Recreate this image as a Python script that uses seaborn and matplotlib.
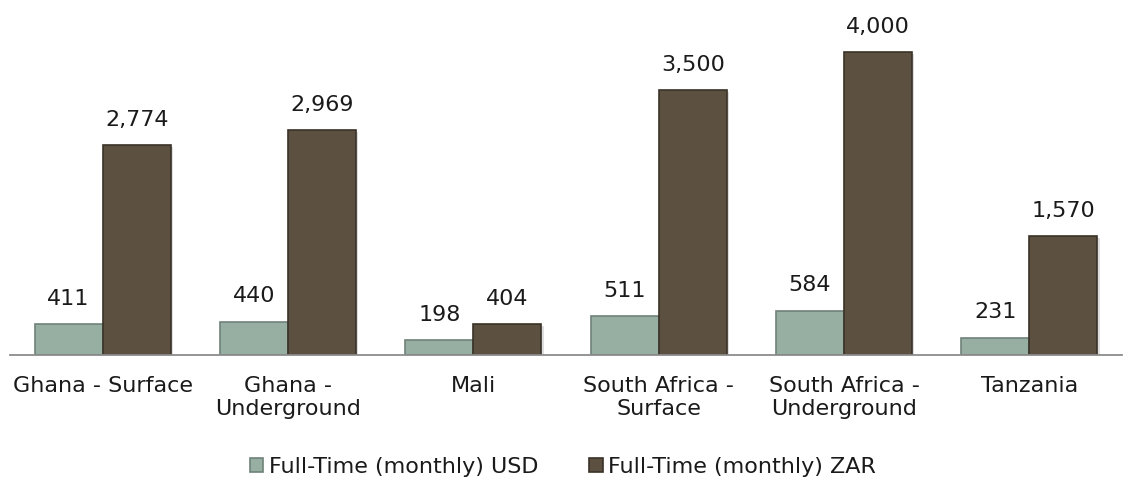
import matplotlib
matplotlib.use("Agg")
import matplotlib.pyplot as plt
import matplotlib.patheffects as pe
from matplotlib.patches import Patch
import seaborn as sns
import pandas as pd

categories = ["Ghana - Surface", "Ghana -\nUnderground", "Mali",
              "South Africa -\nSurface", "South Africa -\nUnderground", "Tanzania"]
usd_values = [411, 440, 198, 511, 584, 231]
zar_values = [2774, 2969, 404, 3500, 4000, 1570]
series_names = ["Full-Time (monthly) USD", "Full-Time (monthly) ZAR"]

df = pd.DataFrame({
    "category": categories * 2,
    "value": usd_values + zar_values,
    "series": [series_names[0]] * len(categories) + [series_names[1]] * len(categories),
})

sns.set_theme(style="white")
plt.rcParams["font.family"] = ["DejaVu Sans"]

colors = {series_names[0]: "#97aea3", series_names[1]: "#5c5040"}
edges = {series_names[0]: "#6f8279", series_names[1]: "#3a3228"}

fig = plt.figure(figsize=(11.32, 4.8), dpi=100)
ax = fig.add_axes([10 / 1132, 125 / 480, 1112 / 1132, 350 / 480])

sns.barplot(data=df, x="category", y="value", hue="series", palette=colors,
            order=categories, hue_order=series_names, width=0.735,
            saturation=1, legend=False, ax=ax)

for container, name in zip(ax.containers, series_names):
    for bar in container:
        bar.set_edgecolor(edges[name])
        bar.set_linewidth(1.2)
        bar.set_path_effects([pe.SimplePatchShadow(offset=(1.5, -1.5), shadow_rgbFace="#c8c8c8", alpha=0.6),
                              pe.Normal()])
    ax.bar_label(container, labels=[f"{v:,.0f}" for v in container.datavalues],
                 padding=11, fontsize=16, color="#1a1a1a")

ax.set_ylim(0, 4620)
ax.set_xlim(-0.5, len(categories) - 0.5)
ax.set_xlabel("")
ax.set_ylabel("")
ax.set_yticks([])
ax.tick_params(axis="x", length=0, pad=15, labelsize=16, labelcolor="#1a1a1a")
for lbl in ax.get_xticklabels():
    lbl.set_linespacing(1.2)
for s in ["top", "right", "left"]:
    ax.spines[s].set_visible(False)
ax.spines["bottom"].set_color("#8c8c8c")
ax.spines["bottom"].set_linewidth(1.3)

handles = [Patch(facecolor=colors[n], edgecolor=edges[n], linewidth=1.2) for n in series_names]
fig.legend(handles, series_names, loc="center", bbox_to_anchor=(563 / 1132, 13 / 480),
           ncol=2, frameon=False, fontsize=16, handlelength=0.6, handleheight=0.6,
           handletextpad=0.25, columnspacing=2.3, labelcolor="#1a1a1a")

fig.savefig("out.png", dpi=100)
